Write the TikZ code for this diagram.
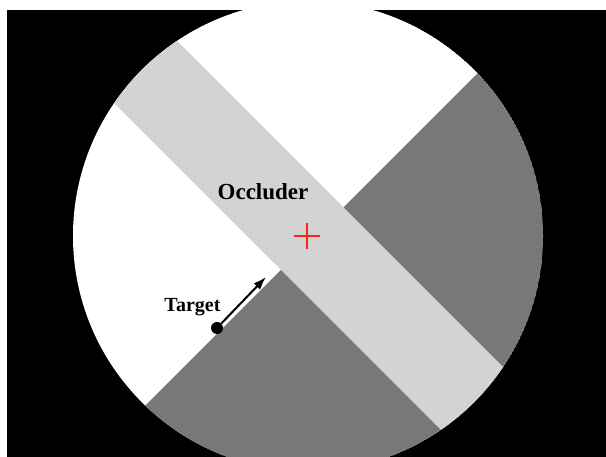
\documentclass[tikz,border=0pt]{standalone}
\usepackage{fontspec}
\setmainfont{Liberation Serif}
\usepackage{xcolor}
\usetikzlibrary{arrows.meta,positioning,shapes.misc}
\definecolor{bandgray}{RGB}{211,211,211}
\definecolor{sectorgray}{RGB}{120,120,120}
\definecolor{crossred}{RGB}{250,35,20}

\begin{document}
\begin{tikzpicture}[x=1pt, y=1pt, every node/.style={inner sep=0pt, font=\bfseries}]
\useasboundingbox (0,0) rectangle (606,457);
\fill[white] (0,0) rectangle (606,457);
\fill[black] (7,0) rectangle (606,447);
\begin{scope}
\clip (7,0) rectangle (606,447);
\clip (308,221) circle (235);
\fill[white] (308,221) circle (235);
\fill[sectorgray] (-50,-144) -- (750,656) -- (750,-144) -- cycle;
\fill[bandgray] (-100,568) -- (600,-132) -- (725,-132) -- (25,568) -- cycle;
\end{scope}
\node[cross out, draw=crossred, line width=2pt, minimum size=16.3pt, rotate=45] (fix) at (307,221) {};
\node[on grid, above left=44pt and 44pt of fix, font=\bfseries\fontsize{23}{27}\selectfont] (occ) {Occluder};
\node[circle, fill=black, minimum size=12pt] (tgt) at (217,129) {};
\node[above left=7pt and -8pt of tgt, font=\bfseries\fontsize{20}{24}\selectfont] (tlab) {Target};
\coordinate (tip) at (266,180);
\draw[-{Latex[length=13pt, width=9pt]}, line width=2pt] (tgt) -- (tip);
\end{tikzpicture}
\end{document}
